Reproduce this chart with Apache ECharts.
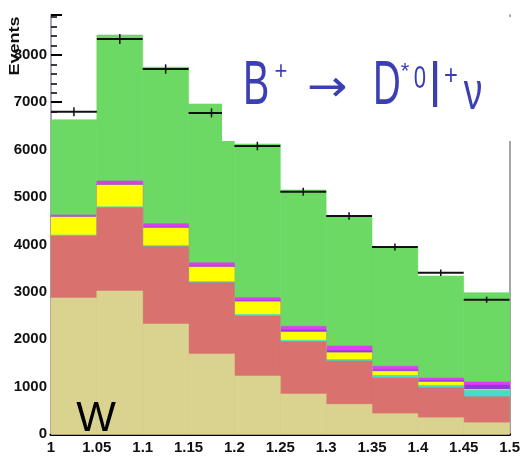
<!DOCTYPE html>
<html><head><meta charset="utf-8">
<script src="https://cdn.jsdelivr.net/npm/echarts@6/dist/echarts.min.js"></script>
<style>html,body{margin:0;padding:0;background:#fff}#c{width:523px;height:456px}</style>
</head><body><div id="c"></div>
<script>
// Histogram bins (lower edges) and common width
const binLow = [1.00, 1.05, 1.10, 1.15, 1.20, 1.25, 1.30, 1.35, 1.40, 1.45];
const binWidth = 0.05;

// Stacked components, bottom to top
const tanVals     = [2870, 3017, 2321, 1688, 1224, 844, 626, 429, 344, 238];
const redVals     = [1307, 1758, 1631, 1504, 1266, 1103, 914, 752, 633, 549];
const cyanVals    = [20, 20, 25, 25, 30, 30, 30, 57, 50, 135];
const yellowVals  = [381, 458, 369, 306, 271, 175, 145, 84, 70, 18];
const violetVals  = [12, 15, 20, 20, 20, 40, 40, 30, 30, 90];
const magentaVals = [30, 70, 71, 71, 65, 80, 101, 76, 54, 67];
const greenVals   = [2010, 3080, 3303, 3348, 3242, 2875, 2722, 2502, 2152, 1884];

// Measured events with uncertainties
const dataVals = [6800, 8333, 7700, 6775, 6076, 5112, 4600, 3945, 3403, 2833];
const dataErrs = [95, 105, 100, 95, 90, 85, 80, 75, 70, 65];

const xTicks = ['1', '1.05', '1.1', '1.15', '1.2', '1.25', '1.3', '1.35', '1.4', '1.45', '1.5'];

const layers = [
  { name: 'tan', vals: tanVals, color: '#d9d38f' },
  { name: 'red', vals: redVals, color: '#d9716e' },
  { name: 'cyan', vals: cyanVals, color: '#45dccf' },
  { name: 'yellow', vals: yellowVals, color: '#ffff00' },
  { name: 'violet', vals: violetVals, color: '#8a3ae0' },
  { name: 'magenta', vals: magentaVals, color: '#db3ff0' },
  { name: 'green', vals: greenVals, color: '#6bd963' }
];

// cumulative tops of each layer
const tops = [];
let running = binLow.map(() => 0);
layers.forEach(l => {
  running = running.map((r, i) => r + l.vals[i]);
  tops.push(running.slice());
});

const YMAX = 8840;

function stackSeries(idx) {
  const layer = layers[idx];
  const top = tops[idx];
  return {
    type: 'custom',
    name: layer.name,
    z: 2,
    data: binLow.map((x, i) => [x, x + binWidth, top[i]]),
    encode: { x: [0, 1], y: 2 },
    renderItem: (params, api) => {
      const p0 = api.coord([api.value(0), 0]);
      const p1 = api.coord([api.value(1), api.value(2)]);
      return {
        type: 'rect',
        shape: { x: p0[0], y: p1[1], width: p1[0] - p0[0], height: p0[1] - p1[1] },
        style: { fill: layer.color, stroke: layer.color, lineWidth: 0.6 }
      };
    }
  };
}

// draw from the top of the stack downward so lower layers overlay
const series = [];
for (let i = layers.length - 1; i >= 0; i--) series.push(stackSeries(i));

series.push({
  type: 'custom',
  name: 'data',
  z: 5,
  data: binLow.map((x, i) => [x, x + binWidth, dataVals[i], dataErrs[i]]),
  encode: { x: [0, 1], y: 2 },
  renderItem: (params, api) => {
    const x0 = api.value(0), x1 = api.value(1), v = api.value(2), e = api.value(3);
    const pl = api.coord([x0, v]);
    const pr = api.coord([x1, v]);
    const xc = (x0 + x1) / 2;
    const pt = api.coord([xc, v + e]);
    const pb = api.coord([xc, v - e]);
    return {
      type: 'group',
      children: [
        { type: 'line', shape: { x1: pl[0], y1: pl[1], x2: pr[0], y2: pr[1] }, style: { stroke: '#111', lineWidth: 2 } },
        { type: 'line', shape: { x1: pt[0], y1: pt[1], x2: pb[0], y2: pb[1] }, style: { stroke: '#111', lineWidth: 1.5 } }
      ]
    };
  }
});

const labelFont = { color: '#111', fontFamily: 'Liberation Sans, sans-serif', fontWeight: 'bold', fontSize: 15 };
const titleFont = 'Liberation Sans, sans-serif';
const blue = '#3b3fb3';

const chart = echarts.init(document.getElementById('c'), null, { renderer: 'canvas' });
chart.setOption({
  animation: false,
  backgroundColor: '#fff',
  grid: { left: 51, right: 11, top: 15, bottom: 22 },
  xAxis: [
    {
      type: 'value', min: 1, max: 1.5, interval: 0.05, position: 'bottom',
      axisLine: { show: true, lineStyle: { color: '#999', width: 1 } },
      axisTick: { show: false }, splitLine: { show: false },
      axisLabel: Object.assign({ margin: 6, formatter: (v) => xTicks[Math.round((v - 1) / binWidth)] }, labelFont)
    },
    {
      type: 'value', min: 1, max: 1.5, position: 'top',
      axisLine: { show: true, lineStyle: { color: '#000', width: 3 } },
      axisTick: { show: false }, axisLabel: { show: false }, splitLine: { show: false }
    }
  ],
  yAxis: [
    {
      type: 'value', min: 0, max: YMAX, interval: 1000, position: 'left',
      axisLine: { show: true, lineStyle: { color: '#8a8a9a', width: 1.5 } },
      axisTick: { show: true, inside: true, length: 11, lineStyle: { color: '#000', width: 2 } },
      minorTick: { show: true, splitNumber: 5, length: 6, lineStyle: { color: '#000', width: 1.5 } },
      splitLine: { show: false },
      axisLabel: Object.assign({ margin: 4, showMaxLabel: false, formatter: (v) => String(v) }, labelFont)
    },
    {
      type: 'value', min: 0, max: YMAX, position: 'right',
      axisLine: { show: true, lineStyle: { color: '#888', width: 1.5 } },
      axisTick: { show: false }, axisLabel: { show: false }, splitLine: { show: false }
    }
  ],
  series: series,
  graphic: [
    { type: 'rect', z: 50, shape: { x: 222, y: 17, width: 289, height: 124 }, style: { fill: '#fff' } },
    { type: 'text', z: 51, x: 15, y: 46, rotation: Math.PI / 2, scaleX: 1.2,
      style: { text: 'Events', font: 'bold 15px Liberation Sans, sans-serif', fill: '#111', textAlign: 'center', textVerticalAlign: 'middle' } },
    { type: 'text', z: 51, x: 96, y: 419,
      style: { text: 'W', font: 'normal 42px Liberation Sans, sans-serif', fill: '#000', textAlign: 'center', textVerticalAlign: 'middle' } },
    { type: 'text', z: 51, x: 243, y: 87, scaleY: 1.3, scaleX: 0.82,
      style: { text: 'B', font: '48px ' + titleFont, fill: blue, textAlign: 'left', textVerticalAlign: 'middle' } },
    { type: 'text', z: 51, x: 281, y: 72, scaleX: 0.85,
      style: { text: '+', font: '26px ' + titleFont, fill: blue, textAlign: 'center', textVerticalAlign: 'middle' } },
    { type: 'text', z: 51, x: 327, y: 90, scaleX: 1.1,
      style: { text: '\u2192', font: '44px DejaVu Sans, sans-serif', fill: blue, textAlign: 'center', textVerticalAlign: 'middle' } },
    { type: 'text', z: 51, x: 373, y: 87, scaleY: 1.3, scaleX: 0.8,
      style: { text: 'D', font: '48px ' + titleFont, fill: blue, textAlign: 'left', textVerticalAlign: 'middle' } },
    { type: 'text', z: 51, x: 405, y: 72,
      style: { text: '*', font: '22px ' + titleFont, fill: blue, textAlign: 'center', textVerticalAlign: 'middle' } },
    { type: 'text', z: 51, x: 420, y: 79, scaleY: 1.2, scaleX: 0.85,
      style: { text: '0', font: '26px ' + titleFont, fill: blue, textAlign: 'center', textVerticalAlign: 'middle' } },
    { type: 'text', z: 51, x: 435, y: 90, scaleY: 1.3,
      style: { text: 'l', font: '48px ' + titleFont, fill: blue, textAlign: 'center', textVerticalAlign: 'middle' } },
    { type: 'text', z: 51, x: 451, y: 76, scaleX: 0.85,
      style: { text: '+', font: '28px ' + titleFont, fill: blue, textAlign: 'center', textVerticalAlign: 'middle' } },
    { type: 'text', z: 51, x: 473, y: 94, scaleY: 1.2, scaleX: 0.85,
      style: { text: '\u03bd', font: '44px ' + titleFont, fill: blue, textAlign: 'center', textVerticalAlign: 'middle' } }
  ]
});
</script>
</body></html>
